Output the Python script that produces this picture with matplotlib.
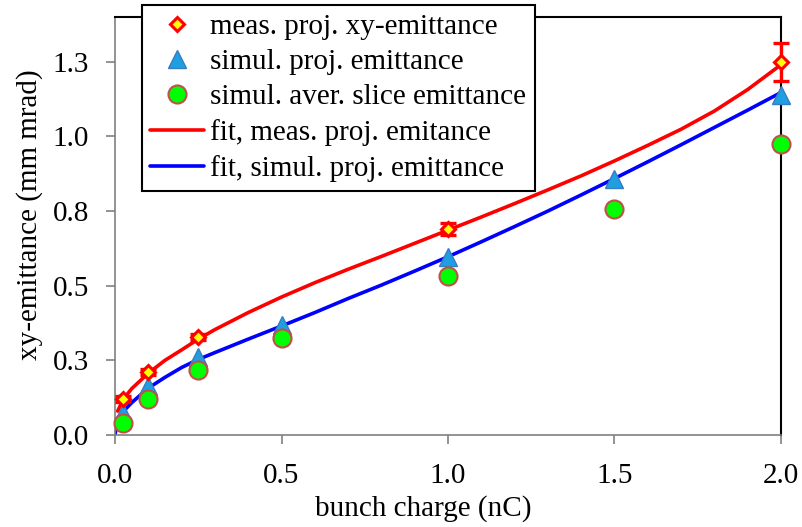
import matplotlib
matplotlib.use('Agg')
import matplotlib.pyplot as plt

plt.rcParams['font.family'] = ['Liberation Serif', 'DejaVu Serif']

# bunch charge (nC)
charge = [0.025, 0.1, 0.25, 0.5, 1.0, 1.5, 2.0]

# measured projected xy-emittance (mm mrad) with errors
meas_q = [0.025, 0.1, 0.25, 1.0, 2.0]
meas_emit = [0.12, 0.212, 0.329, 0.69, 1.249]
meas_err = [0.01, 0.01, 0.01, 0.02, 0.064]

# simulations
sim_proj = [0.074, 0.165, 0.26, 0.368, 0.597, 0.859, 1.138]
sim_slice = [0.041, 0.12, 0.218, 0.326, 0.532, 0.756, 0.974]

# fit curves
fit_meas_q = [0.008, 0.025, 0.05, 0.1, 0.15, 0.2, 0.25, 0.3, 0.4, 0.5, 0.6,
              0.7, 0.8, 0.9, 1.0, 1.1, 1.2, 1.3, 1.4, 1.5, 1.6, 1.7, 1.8,
              1.9, 2.0]
fit_meas = [0.08, 0.12, 0.155, 0.207, 0.25, 0.285, 0.321, 0.353, 0.41, 0.462,
            0.51, 0.555, 0.598, 0.642, 0.686, 0.73, 0.775, 0.821, 0.868,
            0.918, 0.97, 1.024, 1.085, 1.157, 1.24]
fit_sim_q = [0.0, 0.005, 0.015, 0.03, 0.05, 0.1, 0.15, 0.2, 0.25, 0.3, 0.4,
             0.5, 0.6, 0.7, 0.8, 0.9, 1.0, 1.1, 1.2, 1.3, 1.4, 1.5, 1.6, 1.7,
             1.8, 1.9, 2.0]
fit_sim = [0.0, 0.035, 0.062, 0.085, 0.108, 0.157, 0.193, 0.226, 0.253, 0.276,
           0.321, 0.365, 0.41, 0.457, 0.502, 0.549, 0.597, 0.647, 0.698, 0.75,
           0.804, 0.859, 0.915, 0.972, 1.03, 1.088, 1.147]

yticks = [0.0, 0.25, 0.5, 0.75, 1.0, 1.25]
ytick_labels = ['0.0', '0.3', '0.5', '0.8', '1.0', '1.3']
xticks = [0.0, 0.5, 1.0, 1.5, 2.0]

fig = plt.figure(figsize=(8.02, 5.27), dpi=100)
ax = fig.add_axes([0.1434, 0.1746, 0.8304, 0.7932])

ax.plot(fit_meas_q, fit_meas, color='#ff0000', lw=2.6, zorder=2,
        solid_capstyle='round', label='fit, meas. proj. emitance')
ax.plot(fit_sim_q, fit_sim, color='#0000ff', lw=2.6, zorder=2,
        solid_capstyle='round', label='fit, simul. proj. emittance')
ax.plot(charge, sim_proj, ls='none', marker='^', ms=13.5, mfc='#1e9fe2',
        mec='#3a7cc0', mew=1.0, zorder=3, clip_on=False,
        label='simul. proj. emittance')
ax.plot(charge, sim_slice, ls='none', marker='o', ms=13, mfc='#00ff00',
        mec='#c0504d', mew=1.5, zorder=4, clip_on=False,
        label='simul. aver. slice emittance')
ax.errorbar(meas_q, meas_emit, yerr=meas_err, fmt='none', ecolor='#ff0000',
            elinewidth=2.4, capsize=6, capthick=2.4, zorder=5, clip_on=False)
ax.plot(meas_q, meas_emit, ls='none', marker='D', ms=7, mfc='#ffff00',
        mec='#ff0000', mew=2.2, zorder=6, clip_on=False,
        label='meas. proj. xy-emittance')

ax.set_xlim(0, 2.0)
ax.set_ylim(0, 1.4)
ax.set_xticks(xticks)
ax.set_xticklabels(['%.1f' % v for v in xticks])
ax.set_yticks(yticks)
ax.set_yticklabels(ytick_labels)

for side in ['left', 'bottom']:
    ax.spines[side].set_color('#808080')
    ax.spines[side].set_linewidth(1.2)
for side in ['top', 'right']:
    ax.spines[side].set_color('black')
    ax.spines[side].set_linewidth(1.5)
ax.tick_params(axis='both', direction='out', length=6.5, width=1.2,
               color='#808080', labelsize=21)
ax.tick_params(axis='y', pad=12)
ax.tick_params(axis='x', pad=14)

ax.set_xlabel('bunch charge (nC)', fontsize=21)
ax.set_ylabel('xy-emittance (mm mrad)', fontsize=21)
ax.xaxis.label.set_va('center')
ax.yaxis.label.set_va('center')
ax.xaxis.set_label_coords(0.4625, -0.177)
ax.yaxis.set_label_coords(-0.1276, 0.526)

# legend order: markers first, then fits
h, l = ax.get_legend_handles_labels()
order = [4, 2, 3, 0, 1]
leg = ax.legend([h[i] for i in order], [l[i] for i in order],
                loc='upper left', bbox_to_anchor=(0.040, 1.029),
                borderaxespad=0, fontsize=21, frameon=True, fancybox=False,
                framealpha=1, edgecolor='black', labelspacing=0.3,
                handlelength=1.85, handletextpad=0.2, borderpad=0.3)
leg.get_frame().set_linewidth(1.5)
leg.set_zorder(10)

fig.savefig('out.png', dpi=100)
